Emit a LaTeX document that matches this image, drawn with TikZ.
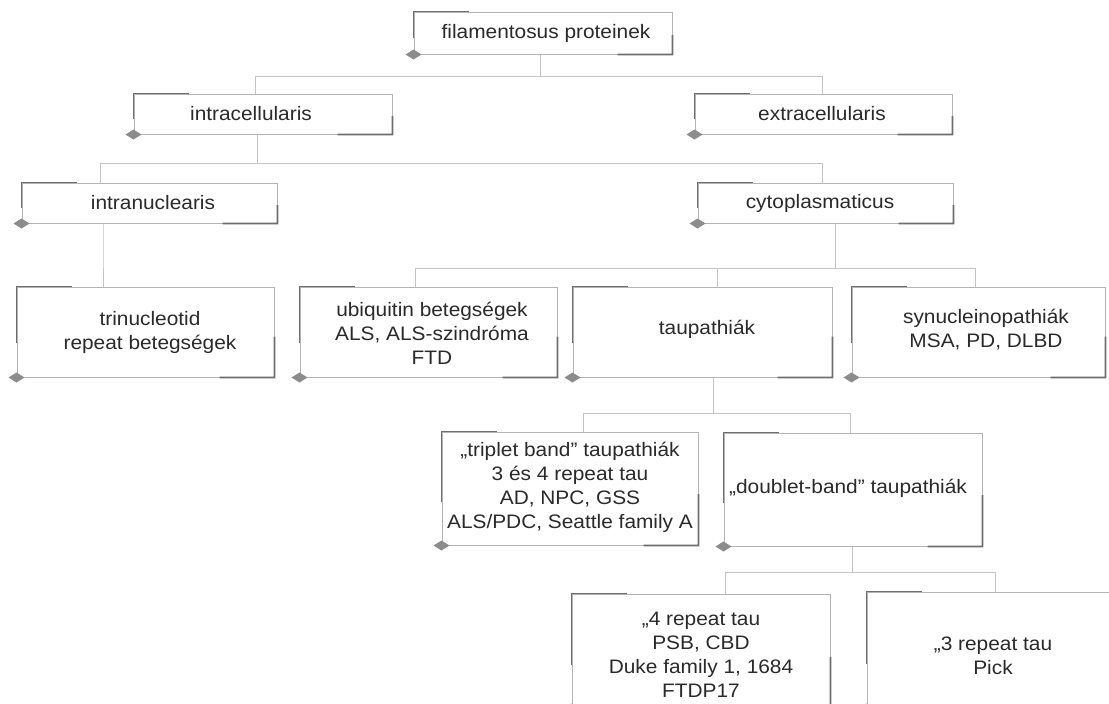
\documentclass[tikz,border=0pt]{standalone}
\usepackage{fontspec}
\setmainfont{Liberation Sans}[FakeStretch=1.07]
\usetikzlibrary{calc}
\definecolor{boxgray}{HTML}{B4B4B4}
\definecolor{darkgray2}{HTML}{6E6E6E}
\definecolor{conngray}{HTML}{C4C4C4}
\definecolor{diagray}{HTML}{8C8C8C}
\definecolor{txtgray}{HTML}{2A2A2A}
\tikzset{
  box/.style={draw=boxgray, line width=1pt, inner sep=0pt},
  darkseg/.style={draw=darkgray2, line width=1.7pt},
  conn/.style={draw=conngray, line width=1pt},
  txt/.style={align=center, inner sep=0pt, text=txtgray, font=\fontsize{19.5}{24}\selectfont},
}
% box: name, left, top, right, bottom
\newcommand\mybox[5]{%
  \node[box, minimum width={(#4)-(#2)}, minimum height={(#5)-(#3)}] (#1) at ({((#2)+(#4))/2},{((#3)+(#5))/2}) {};
  \draw[darkseg] ([xshift=55pt]#1.north west) -- (#1.north west) -- ($(#1.north west)!0.62!(#1.south west)$);
  \draw[darkseg] ($(#1.north east)!0.55!(#1.south east)$) -- (#1.south east) -- ([xshift=-55pt]#1.south east);
  \fill[diagray] ([xshift=-8pt]#1.south west) -- ([yshift=5pt]#1.south west) -- ([xshift=8pt]#1.south west) -- ([yshift=-5pt]#1.south west) -- cycle;
}
% connector: parent, parent dx, child, child dx, bus y
\newcommand\myconn[5]{%
  \draw[conn] ([xshift=#2pt]#1.south) -- ([xshift=#2pt]#1.south |- 0,#5) -| ([xshift=#4pt]#3.north);
}
\begin{document}
\begin{tikzpicture}[x=1pt,y=-1pt]
\path[use as bounding box, clip] (0,0) rectangle (1109,704);
\fill[white] (0,0) rectangle (1109,704);

\mybox{fil}{414}{12}{672}{54}
\mybox{intra}{134}{94}{392}{134}
\mybox{extra}{695}{94}{952}{134}
\mybox{nucl}{22}{183}{277}{223}
\mybox{cyto}{698}{183}{953}{223}
\mybox{trin}{17}{287}{274}{377}
\mybox{ubi}{300}{287}{557}{377}
\mybox{tau}{573}{287}{832}{377}
\mybox{syn}{852}{287}{1105}{377}
\mybox{trip}{442}{432}{698}{545}
\mybox{doub}{724}{433}{982}{546}
\mybox{four}{572}{594}{830}{708}
\mybox{three}{867}{592}{1125}{708}

\myconn{fil}{-3}{intra}{-8}{76}
\myconn{fil}{-3}{extra}{-1.5}{76}
\myconn{intra}{-6}{nucl}{-49.5}{163}
\myconn{intra}{-6}{cyto}{-3.5}{163}
\myconn{nucl}{-46.5}{trin}{-42.5}{250}
\myconn{cyto}{9.5}{ubi}{-13.5}{268}
\myconn{cyto}{9.5}{tau}{14.5}{268}
\myconn{cyto}{9.5}{syn}{-3.5}{268}
\myconn{tau}{10.5}{trip}{13}{413}
\myconn{tau}{10.5}{doub}{-3}{413}
\myconn{doub}{-1}{four}{24}{572}
\myconn{doub}{-1}{three}{-1}{572}

\node[txt] (filT) at (546,33) {filamentosus proteinek};
\node[txt] (intraT) at (251,114) {intracellularis};
\node[txt] (extraT) at (822,114) {extracellularis};
\node[txt] (nuclT) at (153,203) {intranuclearis};
\node[txt] (cytoT) at (820,203) {cytoplasmaticus};
\node[txt] (trinT) at (150,332) {trinucleotid\\repeat betegségek};
\node[txt] (ubiT) at (432,333) {ubiquitin betegségek\\ALS, ALS-szindróma\\FTD};
\node[txt] (tauT) at (707,329) {taupathiák};
\node[txt] (synT) at (986,330) {synucleinopathiák\\MSA, PD, DLBD};
\node[txt] (tripT) at (570,487) {„triplet band” taupathiák\\3 és 4 repeat tau\\AD, NPC, GSS\\ALS/PDC, Seattle family A};
\node[txt] (doubT) at (848,488) {„doublet-band” taupathiák};
\node[txt] (fourT) at (701,655) {„4 repeat tau\\PSB, CBD\\Duke family 1, 1684\\FTDP17};
\node[txt] (threeT) at (993,656) {„3 repeat tau\\Pick};
\end{tikzpicture}
\end{document}
